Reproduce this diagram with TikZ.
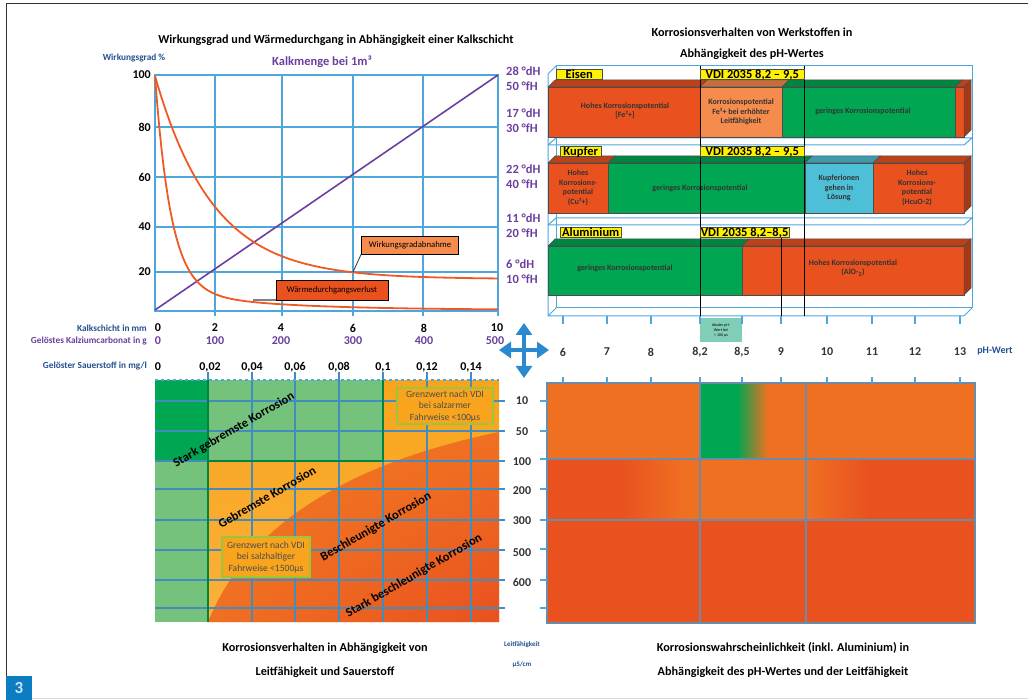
\documentclass[tikz,border=0pt]{standalone}
\usepackage{fontspec}
\setmainfont{Carlito}
\usetikzlibrary{arrows.meta,shadings}

\definecolor{redC}{HTML}{E9511F}
\definecolor{orangeC}{HTML}{F07022}
\definecolor{lightorange}{HTML}{F58B4C}
\definecolor{greenC}{HTML}{00A651}
\definecolor{lightgreen}{HTML}{74C27C}
\definecolor{amberC}{HTML}{F8A51D}
\definecolor{amberL}{HTML}{FBB03B}
\definecolor{cyanC}{HTML}{4DBFD6}
\definecolor{yellowC}{HTML}{FFF200}
\definecolor{purpleC}{HTML}{6B3FA0}
\definecolor{gridblue}{HTML}{4EA6DE}
\definecolor{darkblue}{HTML}{244F8F}
\definecolor{framegray}{HTML}{6B8BAA}
\definecolor{tealC}{HTML}{80CDB8}
\definecolor{olive}{HTML}{9BC53D}
\definecolor{numblue}{HTML}{0C7DC2}
\definecolor{arrowblue}{HTML}{2A8AD0}
\definecolor{curveC}{HTML}{EE5A24}

\tikzset{
  ttl/.style={font=\fontsize{12.2}{14}\selectfont\bfseries},
  axnum/.style={font=\fontsize{12}{13}\selectfont\bfseries, inner sep=0},
  axsmall/.style={font=\fontsize{9.3}{10}\selectfont\bfseries, text=darkblue, inner sep=0},
  hardness/.style={font=\fontsize{12.5}{13}\selectfont\bfseries, text=purpleC, anchor=west, inner sep=0},
  gridl/.style={gridblue, line width=1.1pt},
  bartxt/.style={font=\fontsize{8}{9.5}\selectfont\bfseries, align=center, text=black!80},
  tag/.style={fill=yellowC, draw=black!70, line width=0.5pt, font=\fontsize{12.5}{13}\selectfont\bfseries,
    inner sep=0.5pt, text height=8.5pt, text depth=0.5pt, anchor=north west},
  note/.style={draw=black, line width=0.8pt, font=\fontsize{8.7}{10}\selectfont, inner sep=0},
  zone/.style={font=\fontsize{12.5}{14}\selectfont\bfseries, rotate=30},
  limit/.style={draw=olive, line width=1.6pt, fill=amberC, font=\fontsize{9.6}{11.5}\selectfont,
    text=black!70, align=center, inner sep=0},
  arrowarm/.style={arrowblue, line width=4.5pt, -{Triangle[length=12pt,width=16pt]}},
}

% one segment of a 3D bar: x1, x2, top, bottom, colour
\newcommand\barseg[5]{%
  \filldraw[#5!80!black, draw=black!70, line width=0.5pt] (#1,#3) -- (#1+7,#3-7) -- (#2+7,#3-7) -- (#2,#3) -- cycle;
  \filldraw[#5, draw=black!70, line width=0.5pt] (#1,#3) rectangle (#2,#4);}
% right end of a 3D bar: x, top, bottom, colour
\newcommand\barside[4]{%
  \filldraw[#4!70!black, draw=black!70, line width=0.5pt] (#1,#2) -- (#1+7,#2-7) -- (#1+7,#3-7) -- (#1,#3) -- cycle;}

\begin{document}
\begin{tikzpicture}[x=1pt,y=-1pt]
\useasboundingbox (0,0) rectangle (1028,700);

% page frame
\draw[black!80, line width=1pt] (6,676) -- (6,4) -- (1028,4);
\draw[black!15, line width=1pt] (32,698) -- (1028,698);
\fill[numblue] (6,676) rectangle (32,700);
\node[text=white!80!numblue, font=\fontsize{17}{17}\selectfont\bfseries] (fignum) at (19,688) {3};

%%% top left: Wirkungsgrad
\node[ttl] (ttlA) at (336,40) {Wirkungsgrad und Wärmedurchgang in Abhängigkeit einer Kalkschicht};
\node[axsmall] (wglab) at (134,58) {Wirkungsgrad \%};
\node[font=\fontsize{12.5}{14}\selectfont\bfseries, text=purpleC] (kmlab) at (322,62) {Kalkmenge bei 1m³};

\foreach \x in {215,282,353,423}
  \draw[gridl] (\x,75) -- (\x,316);
\foreach \y in {127,177,227,272}
  \draw[gridl] (155,\y) -- (498,\y);
\draw[gridl] (155,312) -- (155,75) -- (498,75) -- (498,316);
\draw[gridl] (155,311) -- (498,311);

\draw[purpleC, line width=1.6pt] (155,310) -- (498,75);
\draw[curveC, line width=1.8pt] plot[domain=155:498, samples=120] (\x, {279-203*exp(-(\x-155)/58)});
\draw[curveC, line width=1.8pt] plot[domain=155:498, samples=160] (\x, {310-214*exp(-(\x-155)/16)-20*exp(-(\x-155)/100)});

\node[note, fill=lightorange, minimum width=97pt, minimum height=18pt] (wga) at (410,245) {Wirkungsgradabnahme};
\coordinate (wgaP) at (353,272);
\draw[black!80, line width=0.8pt] (wgaP) -- (wga.south west);
\node[note, fill=redC, minimum width=112pt, minimum height=20pt] (wdv) at (332,290) {Wärmedurchgangsverlust};
\coordinate (wdvP) at (253,300);
\draw[black!50, line width=1.3pt] (wdvP) -- (wdv.west |- wdvP);

\foreach \v/\y in {100/75, 80/127, 60/177, 40/227, 20/272}
  \node[axnum, anchor=east] (yl\v) at (151,\y) {\v};
\foreach \a/\b/\y [count=\i] in {28/50/71, 17/30/113, 22/40/169, 11/20/218, 6/10/264} {
  \node[hardness] (dh\i) at (506,\y) {\a\ °dH};
  \node[hardness] (fh\i) at (506,\y+15) {\b\ °fH};
}

\node[axsmall, anchor=east] (kslab) at (147,328) {Kalkschicht in mm};
\node[axsmall, anchor=east, text=purpleC] (kclab) at (147,341) {Gelöstes Kalziumcarbonat in g};
\node[axsmall, anchor=east] (sslab) at (147,366) {Gelöster Sauerstoff in mg/l};
\foreach \t/\x in {0/158, 2/215, 4/281, 6/353, 8/424, 10/497}
  \node[axnum] (ks\t) at (\x,328) {\t};
\foreach \t/\x in {0/158, 100/215, 200/281, 300/353, 400/424, 500/495}
  \node[axnum, text=purpleC] (kc\t) at (\x,341) {\t};
\foreach \t/\x [count=\i] in {0/158, {0,02}/210, {0,04}/252, {0,06}/295, {0,08}/339, {0,1}/383, {0,12}/427, {0,14}/471}
  \node[axnum] (so\i) at (\x,367) {\t};

% cross of arrows
\coordinate (cross) at (524,350);
\draw[arrowarm] (cross) -- (524,323);
\draw[arrowarm] (cross) -- (524,378);
\draw[arrowarm] (cross) -- (499,350);
\draw[arrowarm] (cross) -- (549,350);

%%% top right: pH chart
\node[ttl] (ttlB1) at (752,32) {Korrosionsverhalten von Werkstoffen in};
\node[ttl] (ttlB2) at (752,54) {Abhängigkeit des pH-Wertes};

% 3D frame
\draw[gridblue, line width=1pt] (556,66) rectangle (972,308);
\draw[gridblue, line width=1pt] (548,74) -- (556,66) (548,74) -- (548,316) -- (964,316) -- (972,308) (548,316) -- (556,308);
\foreach \y in {141,221}
  \draw[gridblue, line width=1pt] (548,\y+4) -- (556,\y-3) -- (972,\y-3) (548,\y+4) -- (964,\y+4) -- (972,\y-3);

% Eisen
\barseg{548}{700}{87}{137}{redC}
\barseg{700}{782}{87}{137}{lightorange}
\barseg{782}{955}{87}{137}{greenC}
\barseg{955}{964}{87}{137}{redC}
\barside{964}{87}{137}{redC}
\node[bartxt] (fe1) at (625,111) {Hohes Korrosionspotential\\{[}Fe²+{]}};
\node[bartxt] (fe2) at (741,112) {Korrosionspotential\\Fe²+ bei erhöhter\\Leitfähigkeit};
\node[bartxt] (fe3) at (863,111) {geringes Korrosionspotential};

% Kupfer
\barseg{548}{608}{163}{213}{redC}
\barseg{608}{805}{163}{213}{greenC}
\barseg{805}{873}{163}{213}{cyanC}
\barseg{873}{964}{163}{213}{redC}
\barside{964}{163}{213}{redC}
\node[bartxt] (cu1) at (578,188) {Hohes\\Korrosions-\\potential\\(Cu²+)};
\node[bartxt] (cu2) at (700,188) {geringes Korrosionspotential};
\node[bartxt] (cu3) at (839,188) {Kupferionen\\gehen in\\Lösung};
\node[bartxt] (cu4) at (917,188) {Hohes\\Korrosions-\\potential\\(HcuO-2)};

% Aluminium
\barseg{548}{742}{246}{295}{greenC}
\barseg{742}{964}{246}{295}{redC}
\barside{964}{246}{295}{redC}
\node[bartxt] (al1) at (625,268) {geringes Korrosionspotential};
\node[bartxt] (al2) at (853,268) {Hohes Korrosionspotential\\(AlO-\textsubscript{2})};

% VDI limits
\draw[black, line width=1pt] (700,66) -- (700,316);
\draw[black, line width=1pt] (804,66) -- (804,316);
\draw[black, line width=1pt] (781,227) -- (781,316);

\node[tag, minimum width=46pt] (tagFe) at (556,69) {Eisen};
\node[tag, minimum width=104pt] (vdiFe) at (700,69) {VDI 2035 8,2 – 9,5};
\node[tag, minimum width=41pt] (tagCu) at (560,146) {Kupfer};
\node[tag, minimum width=104pt] (vdiCu) at (700,146) {VDI 2035 8,2 – 9,5};
\node[tag, minimum width=61pt] (tagAl) at (560,227) {Aluminium};
\node[tag, minimum width=81pt] (vdiAl) at (700,227) {VDI 2035 8,2–8,5};

\node[fill=tealC, minimum width=42pt, minimum height=24pt, inner sep=0, align=center,
  font=\fontsize{4}{5}\selectfont] (ideal) at (721,330) {Idealer pH-\\Wert bei\\< 100 µs};

\foreach \x in {563,607,651,700,742,781,827,872,915,960}
  \draw[gridl] (\x,316) -- (\x,324);
\foreach \t/\x [count=\i] in {6/563, 7/607, 8/651, {8,2}/700, {8,5}/742, 9/781, 10/827, 11/872, 12/915, 13/960}
  \node[axnum, text=black!80] (ph\i) at (\x,352) {\t};
\node[axsmall, font=\fontsize{10}{11}\selectfont\bfseries] (phlab) at (995,351) {pH-Wert};

%%% bottom left: Leitfaehigkeit / Sauerstoff
\fill[lightgreen] (155,380) rectangle (499,622);
\fill[greenC] (155,380) rectangle (208,462);
\shade[top color=amberC, bottom color=amberL] (208,462) -- (383,462) -- (383,380) -- (499,380) -- (499,622) -- (208,622) -- cycle;
\shade[upper left=orangeC!80!amberC, upper right=orangeC, lower left=orangeC, lower right=redC]
  (208,622) .. controls (245,530) and (340,465) .. (499,432) -- (499,622) -- cycle;

\foreach \x in {208,252,295,339,383,427,471}
  \draw[gridl, gridblue!85!black] (\x,372) -- (\x,622);
\foreach \y in {401,431,461,489,520,550,580,608}
  \draw[gridl, gridblue!85!black] (155,\y) -- (505,\y);
\draw[gridl, dashed] (155,380) -- (499,380);
\draw[greenC!80!black, line width=1.2pt] (208,380) -- (208,622) (383,380) -- (383,462) (208,461) -- (383,461);

\node[limit, minimum width=96pt, minimum height=36pt] (gwA) at (445,406) {Grenzwert nach VDI\\bei salzarmer\\Fahrweise <100µs};
\node[limit, minimum width=88pt, minimum height=40pt] (gwB) at (266,557) {Grenzwert nach VDI\\bei salzhaltiger\\Fahrweise <1500µs};

\node[zone] (zA) at (234,430) {Stark gebremste Korrosion};
\node[zone] (zB) at (267,497) {Gebremste Korrosion};
\node[zone] (zC) at (376,527) {Beschleunigte Korrosion};
\node[zone] (zD) at (414,576) {Stark beschleunigte Korrosion};

\foreach \v/\y in {10/401, 50/432, 100/462, 200/491, 300/521, 500/553, 600/582}
  \node[axnum, text=black!80] (lf\v) at (522,\y) {\v};

%%% bottom right: pH / Leitfaehigkeit
\fill[orangeC] (547,383) rectangle (975,459);
\fill[greenC] (700,383) rectangle (737,459);
\shade[left color=greenC, right color=orangeC] (737,383) rectangle (768,459);
\fill[orangeC] (547,459) rectangle (975,520);
\fill[redC] (547,459) rectangle (620,520);
\shade[left color=redC, right color=orangeC] (620,459) rectangle (685,520);
\shade[left color=orangeC, right color=redC] (806,459) rectangle (870,520);
\fill[redC] (870,459) rectangle (975,520);
\fill[redC] (547,520) rectangle (975,623);
\draw[framegray, line width=1.3pt] (547,383) rectangle (975,623);
\draw[framegray, line width=1.3pt] (700,383) -- (700,623) (806,383) -- (806,623) (547,459) -- (975,459) (547,520) -- (975,520);
\foreach \x in {563,607,651,700,742,781,827,872,915,960}
  \draw[gridl] (\x,377) -- (\x,383);
\foreach \y in {401,431,459,489,520,549,580,608}
  \draw[gridl] (540,\y) -- (547,\y);

% captions
\node[ttl] (capL1) at (325,648) {Korrosionsverhalten in Abhängigkeit von};
\node[ttl] (capL2) at (325,672) {Leitfähigkeit und Sauerstoff};
\node[axsmall, font=\fontsize{7}{8}\selectfont\bfseries] (lfA) at (522,645) {Leitfähigkeit};
\node[axsmall, font=\fontsize{7}{8}\selectfont\bfseries] (lfB) at (522,665) {µS/cm};
\node[ttl] (capR1) at (783,648) {Korrosionswahrscheinlichkeit (inkl. Aluminium) in};
\node[ttl] (capR2) at (783,672) {Abhängigkeit des pH-Wertes und der Leitfähigkeit};
\end{tikzpicture}
\end{document}
